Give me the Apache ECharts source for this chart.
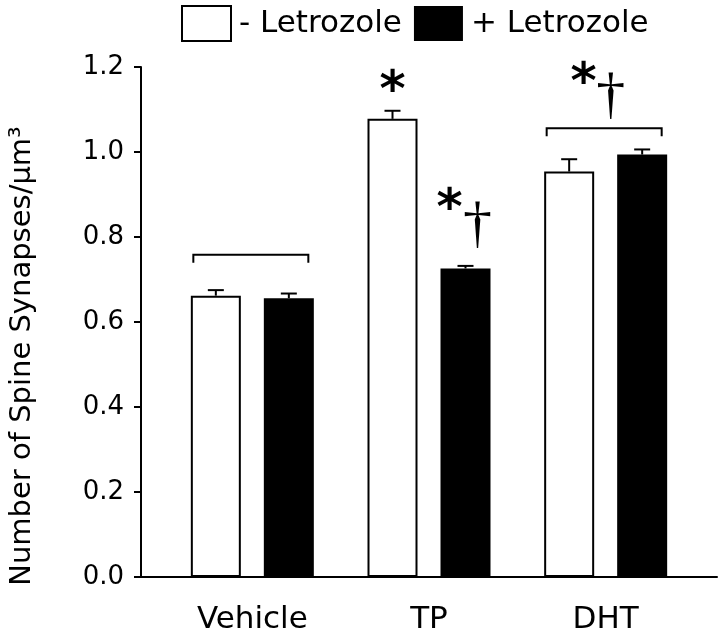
<!DOCTYPE html>
<html>
<head>
<meta charset="utf-8">
<script src="https://cdn.jsdelivr.net/npm/echarts@6/dist/echarts.min.js"></script>
<style>
html,body{margin:0;padding:0;background:#fff;}
#chart{width:720px;height:637px;}
</style>
</head>
<body>
<div id="chart"></div>
<script>
// ---- data ----
const categories = ['Vehicle', 'TP', 'DHT'];
const seriesNames = ['- Letrozole', '+ Letrozole'];
const minusLetrozole = [0.662, 1.078, 0.954];
const minusErr = [0.013, 0.019, 0.029];
const plusLetrozole = [0.656, 0.726, 0.994];
const plusErr = [0.011, 0.006, 0.012];
const yMin = 0, yMax = 1.2, yStep = 0.2;
const yName = 'Number of Spine Synapses/\u00b5m\u00b3';
// significance brackets (category, level)
const bracketCats = ['Vehicle', 'DHT'];
const bracketLevels = [0.758, 1.056];
// annotations (category, level, glyph)
const noteCats = ['TP', 'TP', 'TP', 'DHT', 'DHT'];
const noteLevels = [1.162, 0.885, 0.835, 1.181, 1.14];
const noteTexts = ['*', '*', '\u2020', '*', '\u2020'];

// ---- styling / layout (not data) ----
const FONT = 'DejaVu Sans';
const BAR_W = 50, BAR_GAP = 23;
const HALF = (BAR_W + BAR_GAP) / 2;
const noteDx = [-HALF, HALF - 16, HALF + 12, -22, 5];
const gridTop = 67, gridBottom = 60;

const chart = echarts.init(document.getElementById('chart'), null, {renderer: 'canvas'});

function errSeries(vals, errs, side) {
  return {
    type: 'custom',
    xAxisIndex: 1, yAxisIndex: 1,
    silent: true,
    z: 5,
    data: vals.map((v, i) => [i, v, errs[i]]),
    renderItem: function (params, api) {
      const c = api.value(0), v = api.value(1), e = api.value(2);
      const p0 = api.coord([c, v]);
      const p1 = api.coord([c, v + e]);
      const x = p0[0] + side * HALF;
      return {
        type: 'group',
        children: [
          {type: 'line', shape: {x1: x, y1: p0[1], x2: x, y2: p1[1]}, style: {stroke: '#000', lineWidth: 2}},
          {type: 'line', shape: {x1: x - 8, y1: p1[1], x2: x + 8, y2: p1[1]}, style: {stroke: '#000', lineWidth: 2}}
        ]
      };
    }
  };
}

const option = {
  backgroundColor: '#fff',
  animation: false,
  legend: {
    left: 181, top: 5, padding: 0,
    itemWidth: 49, itemHeight: 35, itemGap: 12,
    icon: 'rect',
    textStyle: {fontFamily: FONT, fontSize: 31, color: '#000', padding: [0, 0, 0, 3]},
    data: [
      {name: seriesNames[0], itemStyle: {color: '#fff', borderColor: '#000', borderWidth: 2}},
      {name: seriesNames[1], itemStyle: {color: '#000', borderWidth: 0}}
    ]
  },
  grid: [
    {left: 141, right: 3, top: gridTop, bottom: gridBottom},
    {left: 164, right: 26, top: gridTop, bottom: gridBottom}
  ],
  xAxis: [
    {
      type: 'value', gridIndex: 0, min: 0, max: 1,
      axisLine: {show: true, lineStyle: {color: '#000', width: 2}},
      axisTick: {show: false}, axisLabel: {show: false}, splitLine: {show: false}
    },
    {
      type: 'category', gridIndex: 1, data: categories,
      axisLine: {show: false}, axisTick: {show: false}, splitLine: {show: false},
      axisLabel: {fontFamily: FONT, fontSize: 31, color: '#000', margin: 27}
    }
  ],
  yAxis: [
    {
      type: 'value', gridIndex: 0, min: yMin, max: yMax, interval: yStep,
      axisLine: {show: true, lineStyle: {color: '#000', width: 2}},
      axisTick: {show: true, inside: false, length: 7, lineStyle: {color: '#000', width: 2}},
      splitLine: {show: false},
      axisLabel: {fontFamily: FONT, fontSize: 26, color: '#000', margin: 17,
        formatter: v => v.toFixed(1)},
      name: yName, nameLocation: 'middle', nameRotate: 90, nameGap: 104,
      nameTextStyle: {fontFamily: FONT, fontSize: 29, color: '#000', padding: [0, 68, 0, 0]}
    },
    {
      type: 'value', gridIndex: 1, min: yMin, max: yMax, interval: yStep, show: false
    }
  ],
  series: [
    {
      name: seriesNames[0], type: 'bar', xAxisIndex: 1, yAxisIndex: 1,
      data: minusLetrozole, barWidth: BAR_W, barGap: (BAR_GAP / BAR_W * 100) + '%',
      itemStyle: {color: '#fff', borderColor: '#000', borderWidth: 2}
    },
    {
      name: seriesNames[1], type: 'bar', xAxisIndex: 1, yAxisIndex: 1,
      data: plusLetrozole, barWidth: BAR_W,
      itemStyle: {color: '#000', borderColor: '#000', borderWidth: 0}
    },
    errSeries(minusLetrozole, minusErr, -1),
    errSeries(plusLetrozole, plusErr, 1),
    {
      type: 'custom', xAxisIndex: 1, yAxisIndex: 1, silent: true, z: 6,
      data: bracketCats.map((c, i) => [categories.indexOf(c), bracketLevels[i]]),
      renderItem: function (params, api) {
        const p = api.coord([api.value(0), api.value(1)]);
        const xl = p[0] - 59, xr = p[0] + 56, y = p[1];
        return {
          type: 'polyline',
          shape: {points: [[xl, y + 8], [xl, y], [xr, y], [xr, y + 8]]},
          style: {stroke: '#000', lineWidth: 2, fill: null}
        };
      }
    },
    {
      type: 'custom', xAxisIndex: 1, yAxisIndex: 1, silent: true, z: 7,
      data: noteCats.map((c, i) => [categories.indexOf(c), noteLevels[i]]),
      renderItem: function (params, api) {
        const i = params.dataIndex;
        const p = api.coord([api.value(0), api.value(1)]);
        const t = noteTexts[i];
        const isStar = t === '*';
        return {
          type: 'text',
          x: p[0] + noteDx[i],
          y: p[1] + (isStar ? 10 : 4),
          style: {
            text: t,
            fontFamily: isStar ? FONT : 'Liberation Serif',
            fontSize: isStar ? 50 : 58,
            fontWeight: isStar ? 'bold' : 'normal',
            fill: '#000',
            align: 'center',
            verticalAlign: 'middle'
          }
        };
      }
    }
  ]
};
chart.setOption(option);
</script>
</body>
</html>
